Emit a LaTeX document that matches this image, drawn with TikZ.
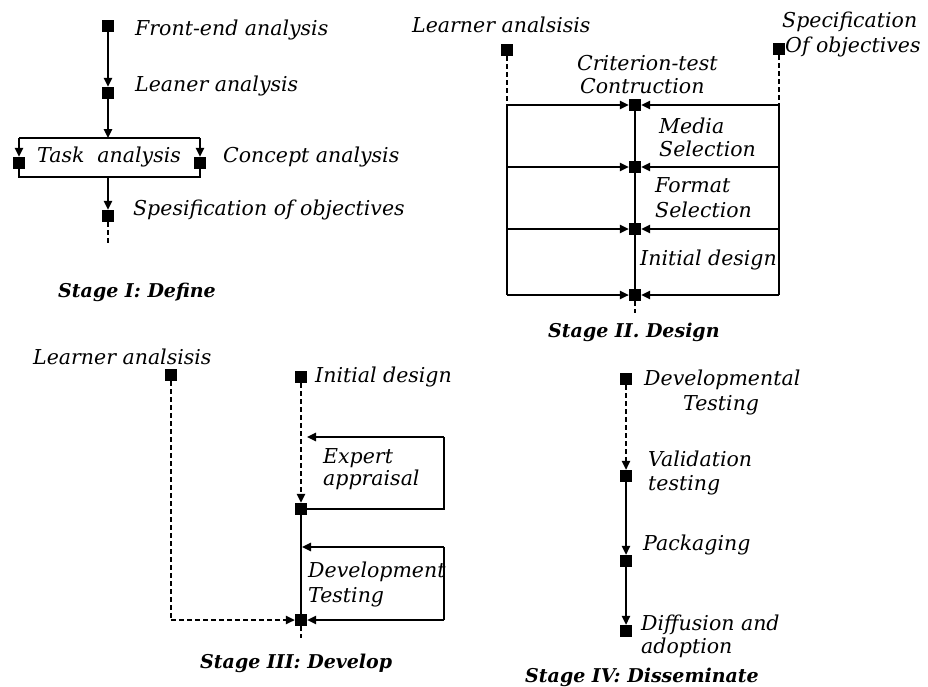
\documentclass[tikz,border=0pt]{standalone}
\usepackage{fontspec}
\setmainfont{DejaVu Serif}
\usetikzlibrary{arrows.meta}
\begin{document}
\begin{tikzpicture}[x=1pt,y=-1pt,
  sq/.style={fill=black,minimum size=12pt,inner sep=0pt,draw=none},
  lbl/.style={font=\itshape\fontsize{20.5}{22}\selectfont,anchor=base west,inner sep=0pt},
  ttl/.style={font=\bfseries\itshape\fontsize{19}{22}\selectfont,anchor=base west,inner sep=0pt},
  ln/.style={line width=1.4pt},
  arr/.style={ln,-{Triangle[length=9pt,width=8.5pt]}},
  dsh/.style={ln,dash pattern=on 5pt off 3pt}
]
\useasboundingbox (0,0) rectangle (928,686);
\fill[white] (0,0) rectangle (928,686);

% ---------- Stage I ----------
\node[sq] (fe) at (108,26) {};
\node[sq] (la) at (108,93) {};
\coordinate (bt) at (108,138);
\coordinate (bTL) at (19,138);
\coordinate (bTR) at (200,138);
\coordinate (bBL) at (19,177);
\coordinate (bBR) at (200,177);
\coordinate (bb) at (108,177);
\node[sq] (ta) at (19,163) {};
\node[sq] (ca) at (200,163) {};
\node[sq] (so) at (108,216) {};
\coordinate (soe) at (108,245);
\draw[arr] (fe) -- (la);
\draw[arr] (la) -- (bt);
\draw[ln] (bTL) -- (bTR);
\draw[arr] (bTL) -- (ta);
\draw[arr] (bTR) -- (ca);
\draw[ln] (ta) -- (bBL) -- (bBR) -- (ca);
\draw[arr] (bb) -- (so);
\draw[dsh] (so) -- (soe);
\node[lbl] (tfe) at (135,35) {Front-end analysis};
\node[lbl] (tla) at (135,91) {Leaner analysis};
\node[lbl] (tta) at (37,162) {Task\ \ analysis};
\node[lbl] (tca) at (223,162) {Concept analysis};
\node[lbl] (tso) at (133,215) {Spesification of objectives};
\node[ttl] (t1) at (58,297) {Stage I: Define};

% ---------- Stage II ----------
\node[sq] (sl) at (507,50) {};
\node[sq] (sr) at (779,49) {};
\coordinate (l0) at (507,105);
\coordinate (l1) at (507,167);
\coordinate (l2) at (507,229);
\coordinate (l3) at (507,295);
\coordinate (r0) at (779,105);
\coordinate (r1) at (779,167);
\coordinate (r2) at (779,229);
\coordinate (r3) at (779,295);
\node[sq] (c0) at (635,105) {};
\node[sq] (c1) at (635,167) {};
\node[sq] (c2) at (635,229) {};
\node[sq] (c3) at (635,295) {};
\coordinate (c3d) at (635,313);
\draw[dsh] (sl) -- (l0);
\draw[dsh] (sr) -- (r0);
\draw[ln] (l0) -- (l3);
\draw[ln] (r0) -- (r3);
\draw[ln] (c0) -- (c1) -- (c2) -- (c3);
\draw[arr] (l0) -- (c0);
\draw[arr] (l1) -- (c1);
\draw[arr] (l2) -- (c2);
\draw[arr] (l3) -- (c3);
\draw[arr] (r0) -- (c0);
\draw[arr] (r1) -- (c1);
\draw[arr] (r2) -- (c2);
\draw[arr] (r3) -- (c3);
\draw[dsh] (c3) -- (c3d);
\node[lbl] (tl2) at (412,32) {Learner analsisis};
\node[lbl] (ts2a) at (782,27) {Specification};
\node[lbl] (ts2b) at (785,52) {Of objectives};
\node[lbl] (tct1) at (577,70) {Criterion-test};
\node[lbl] (tct2) at (580,93) {Contruction};
\node[lbl] (tms1) at (659,133) {Media};
\node[lbl] (tms2) at (659,156) {Selection};
\node[lbl] (tfs1) at (655,192) {Format};
\node[lbl] (tfs2) at (655,217) {Selection};
\node[lbl] (tid2) at (640,265) {Initial design};
\node[ttl] (t2) at (548,337) {Stage II. Design};

% ---------- Stage III ----------
\node[sq] (la3) at (171,375) {};
\coordinate (la3c) at (171,620);
\node[sq] (id3) at (301,377) {};
\node[sq] (ea3) at (301,509) {};
\node[sq] (dt3) at (301,620) {};
\coordinate (e1) at (444,437);
\coordinate (e2) at (444,509);
\coordinate (et) at (307,437);
\coordinate (d1) at (444,547);
\coordinate (d2) at (444,620);
\coordinate (dtt) at (302,547);
\coordinate (dt3d) at (301,638);
\draw[dsh] (la3) -- (la3c);
\draw[dsh,arr] (la3c) -- (dt3);
\draw[dsh,arr] (id3) -- (ea3);
\draw[ln] (ea3) -- (e2) -- (e1);
\draw[arr] (e1) -- (et);
\draw[ln] (ea3) -- (dt3);
\draw[arr] (d1) -- (dtt);
\draw[ln] (d1) -- (d2);
\draw[arr] (d2) -- (dt3);
\draw[dsh] (dt3) -- (dt3d);
\node[lbl] (tl3) at (33,364) {Learner analsisis};
\node[lbl] (tid3) at (315,382) {Initial design};
\node[lbl] (tea1) at (323,463) {Expert};
\node[lbl] (tea2) at (323,485) {appraisal};
\node[lbl] (tdt1) at (308,577) {Development};
\node[lbl] (tdt2) at (308,602) {Testing};
\node[ttl] (t3) at (200,668) {Stage III: Develop};

% ---------- Stage IV ----------
\node[sq] (d4) at (626,379) {};
\node[sq] (v4) at (626,476) {};
\node[sq] (p4) at (626,561) {};
\node[sq] (df4) at (626,631) {};
\draw[dsh,arr] (d4) -- (v4);
\draw[arr] (v4) -- (p4);
\draw[arr] (p4) -- (df4);
\node[lbl] (td1) at (644,385) {Developmental};
\node[lbl] (td2) at (683,410) {Testing};
\node[lbl] (tv1) at (648,466) {Validation};
\node[lbl] (tv2) at (648,490) {testing};
\node[lbl] (tp) at (643,550) {Packaging};
\node[lbl] (tdf1) at (641,630) {Diffusion and};
\node[lbl] (tdf2) at (641,653) {adoption};
\node[ttl] (t4) at (525,682) {Stage IV: Disseminate};
\end{tikzpicture}
\end{document}
